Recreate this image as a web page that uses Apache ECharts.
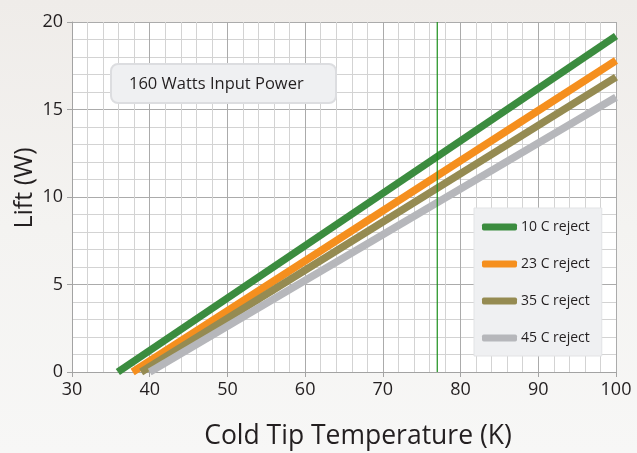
<!DOCTYPE html>
<html>
<head>
<meta charset="utf-8">
<script src="https://cdn.jsdelivr.net/npm/echarts@6/dist/echarts.min.js"></script>
<style>
html,body{margin:0;padding:0;width:637px;height:453px;overflow:hidden;background:linear-gradient(180deg,#efece9 0%,#f4f3f1 50%,#f7f7f6 100%);}
#c{width:637px;height:453px;}
</style>
</head>
<body>
<div id="c"></div>
<script>
// Data (Cold tip temperature K, Lift W)
const seriesNames = ['10 C reject', '23 C reject', '35 C reject', '45 C reject'];
const reject10 = [[35.9, 0], [100, 19.2]];
const reject23 = [[37.8, 0], [100, 17.8]];
const reject35 = [[38.9, 0], [100, 16.85]];
const reject45 = [[40.0, 0], [100, 15.7]];
const refLine77K = [[77, 0], [77, 20]];
const annotationText = '160 Watts Input Power';
const xTitle = 'Cold Tip Temperature (K)';
const yTitle = 'Lift (W)';

const colors = ['#3b8c3f', '#f58f1e', '#958b52', '#b6b7bb'];
const FONT = '"Open Sans", sans-serif';
const chart = echarts.init(document.getElementById('c'));
const allData = [reject10, reject23, reject35, reject45];

const series = allData.map((d, i) => ({
  name: seriesNames[i],
  type: 'line',
  data: d,
  showSymbol: false,
  symbol: 'none',
  clip: true,
  lineStyle: { width: 7.5, color: colors[i], cap: 'butt' },
  itemStyle: { color: colors[i] },
  emphasis: { disabled: true },
  z: 3 + i
}));
series.push({
  name: 'ref',
  type: 'line',
  data: refLine77K,
  showSymbol: false,
  symbol: 'none',
  silent: true,
  lineStyle: { color: '#1a8f1a', width: 1.2 },
  itemStyle: { color: '#1a8f1a' },
  emphasis: { disabled: true },
  z: 20
});

chart.setOption({
  backgroundColor: 'transparent',
  animation: false,
  grid: { left: 72, right: 21, top: 22, bottom: 81, backgroundColor: '#ffffff', show: true, borderWidth: 0 },
  xAxis: {
    type: 'value', min: 30, max: 100, interval: 10,
    axisLine: { show: true, lineStyle: { color: '#a3a3a3', width: 1 } },
    axisTick: { show: true, length: 5, lineStyle: { color: '#a3a3a3' } },
    axisLabel: { fontFamily: FONT, fontSize: 18, color: '#231f20', margin: 9 },
    splitLine: { show: true, lineStyle: { color: '#ababab', width: 1 } },
    minorTick: { show: false, splitNumber: 5 },
    minorSplitLine: { show: true, lineStyle: { color: '#d3d3d3', width: 1 } }
  },
  yAxis: {
    type: 'value', min: 0, max: 20, interval: 5,
    axisLine: { show: true, lineStyle: { color: '#a3a3a3', width: 1 } },
    axisTick: { show: true, length: 5, lineStyle: { color: '#a3a3a3' } },
    axisLabel: { fontFamily: FONT, fontSize: 18, color: '#231f20', margin: 9 },
    splitLine: { show: true, lineStyle: { color: '#ababab', width: 1 } },
    minorTick: { show: false, splitNumber: 5 },
    minorSplitLine: { show: true, lineStyle: { color: '#d3d3d3', width: 1 } }
  },
  legend: {
    orient: 'vertical',
    left: 474, top: 208,
    backgroundColor: '#eff0f2',
    borderColor: '#e2e3e5', borderWidth: 1,
    padding: [12, 12, 11, 8],
    itemGap: 23,
    itemWidth: 35, itemHeight: 7,
    icon: 'roundRect',
    data: seriesNames,
    textStyle: { fontFamily: FONT, fontSize: 14, color: '#231f20', lineHeight: 14, padding: [0, 0, 0, -1] },
    selectedMode: false
  },
  graphic: [
    {
      type: 'rect', left: 110, top: 63,
      shape: { width: 225, height: 39, r: 7 },
      style: { fill: '#eff0f2', stroke: '#dcdde0', lineWidth: 2 },
      z: 100
    },
    {
      type: 'text', x: 129, y: 84,
      style: { text: annotationText, fontFamily: FONT, fontSize: 16.5, fill: '#231f20', verticalAlign: 'middle', align: 'left' },
      z: 101
    },
    {
      type: 'text', x: 358, y: 436,
      style: { text: xTitle, fontFamily: FONT, fontSize: 26.5, fill: '#231f20', verticalAlign: 'middle', align: 'center' },
      z: 101
    },
    {
      type: 'text', x: 25, y: 188, rotation: Math.PI / 2,
      style: { text: yTitle, fontFamily: FONT, fontSize: 25, fill: '#231f20', verticalAlign: 'middle', align: 'center' },
      z: 101
    }
  ],
  series: series
});
</script>
</body>
</html>
